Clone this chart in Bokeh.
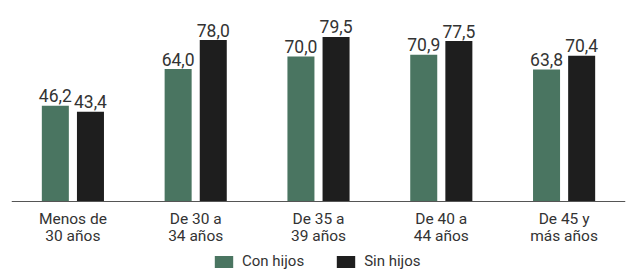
from bokeh.plotting import figure
from bokeh.models import ColumnDataSource, Legend, LegendItem, FactorRange, Span
from bokeh.transform import dodge
from bokeh.core.properties import value
from bokeh.embed import file_html
from bokeh.resources import INLINE

categories = ["Menos de\n30 años", "De 30 a\n34 años", "De 35 a\n39 años", "De 40 a\n44 años", "De 45 y\nmás años"]
con_hijos = [46.2, 64.0, 70.0, 70.9, 63.8]
sin_hijos = [43.4, 78.0, 79.5, 77.5, 70.4]
series_names = ["Con hijos", "Sin hijos"]

GREEN = "#4a7561"
BLACK = "#1e1e1e"
FONT = "Roboto"
TXT = "#333333"

def fmt(v):
    return f"{v:.1f}".replace(".", ",")

src = ColumnDataSource(dict(
    cat=categories,
    zero=[0] * len(categories),
    con=con_hijos,
    sin=sin_hijos,
    con_lbl=[fmt(v) for v in con_hijos],
    sin_lbl=[fmt(v) for v in sin_hijos],
))

p = figure(width=630, height=273, x_range=FactorRange(*categories), y_range=(-34.78, 97.1),
           output_backend="svg", toolbar_location=None,
           min_border_left=11, min_border_right=5, min_border_top=0, min_border_bottom=0)
p.outline_line_color = None
p.grid.grid_line_color = None
p.xaxis.visible = False
p.yaxis.visible = False

r1 = p.vbar(x=dodge("cat", -0.143, range=p.x_range), top="con", width=0.22, source=src,
            fill_color=GREEN, line_color=None)
r2 = p.vbar(x=dodge("cat", 0.143, range=p.x_range), top="sin", width=0.22, source=src,
            fill_color=BLACK, line_color=None)

for off, col, lab in [(-0.143, "con", "con_lbl"), (0.143, "sin", "sin_lbl")]:
    p.text(x=dodge("cat", off, range=p.x_range), y=col, text=lab, source=src,
           text_align="center", text_baseline="alphabetic", y_offset=-10,
           text_font=value(FONT), text_font_size="17.5px", text_color=TXT)

# axis baseline
p.add_layout(Span(location=0, dimension="width", line_color="#555555", line_width=1))

# category labels
p.text(x="cat", y="zero", text="cat", source=src, text_align="center", text_baseline="top",
       y_offset=8, text_font=value(FONT), text_font_size="15.5px", text_color=TXT,
       text_line_height=0.95)

legend = Legend(items=[LegendItem(label=series_names[0], renderers=[r1]),
                       LegendItem(label=series_names[1], renderers=[r2])],
                orientation="horizontal", location=(201, 3),
                label_text_font=FONT, label_text_font_size="15px", label_text_color=TXT,
                glyph_width=23, glyph_height=15, spacing=30, padding=0, margin=0,
                label_standoff=7, border_line_color=None, background_fill_alpha=0)
p.add_layout(legend, "center")

open("out.html", "w").write(file_html(p, INLINE))
